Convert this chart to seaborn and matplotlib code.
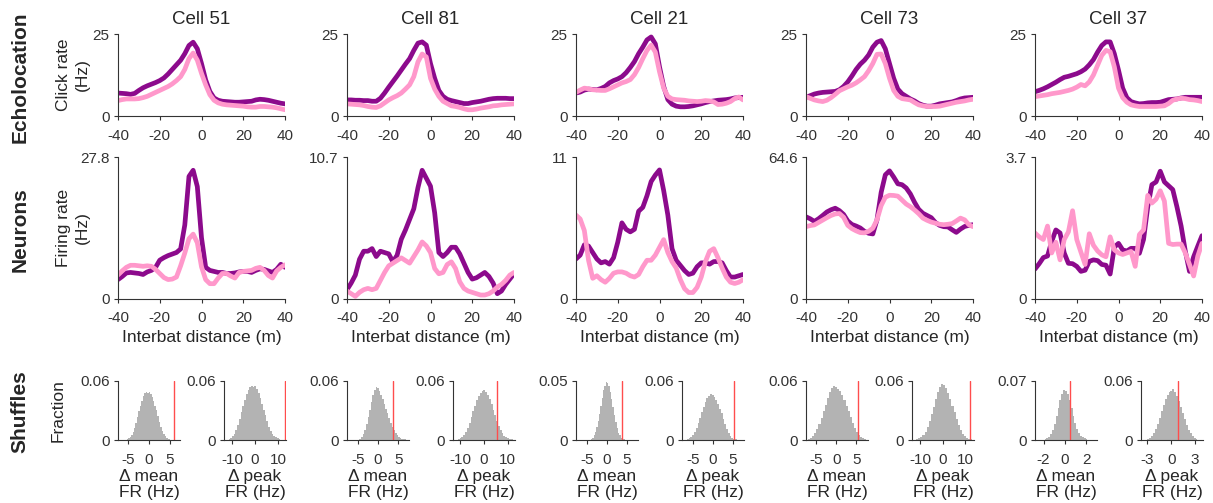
import numpy as np
import pandas as pd
import matplotlib
matplotlib.use('Agg')
import matplotlib.pyplot as plt
import seaborn as sns

# ------------------------------
# data
# ------------------------------
dist = np.arange(-40, 41, 2)  # interbat distance (m)
cell_ids = [51, 81, 21, 73, 37]

# echolocation click rate (Hz), dark = real, pink = control
click_51_dark = [7.0, 6.9, 6.8, 6.6, 6.9, 7.8, 8.6, 9.2, 9.7, 10.2, 10.8, 11.6, 12.8, 14.2, 15.6, 17.0, 19.0, 21.5, 22.5, 20.5, 16.0,
                 11.0, 7.5, 5.5, 4.8, 4.5, 4.4, 4.3, 4.2, 4.2, 4.3, 4.4, 4.5, 4.9, 5.1, 5.0, 4.8, 4.5, 4.2, 3.9, 3.7]
click_51_pink = [4.7, 5.0, 5.2, 5.2, 5.2, 5.3, 5.6, 6.0, 6.6, 7.2, 7.8, 8.4, 9.0, 9.8, 10.8, 12.0, 14.2, 17.5, 19.2, 17.0, 13.0,
                 9.5, 6.5, 4.8, 4.0, 3.6, 3.4, 3.3, 3.2, 3.1, 3.0, 2.8, 2.7, 2.7, 2.9, 2.9, 2.8, 2.7, 2.5, 2.2, 1.9]
click_81_dark = [4.9, 4.9, 4.8, 4.8, 4.7, 4.7, 4.5, 4.5, 5.4, 7.0, 8.8, 10.5, 12.2, 14.0, 15.8, 17.5, 20.0, 22.2, 22.6, 21.6, 16.0,
                 11.5, 7.8, 6.0, 5.1, 4.7, 4.4, 4.1, 3.8, 3.8, 4.1, 4.3, 4.5, 4.8, 5.1, 5.3, 5.4, 5.4, 5.4, 5.3, 5.3]
click_81_pink = [3.7, 3.6, 3.5, 3.4, 3.2, 2.9, 2.7, 2.6, 3.1, 4.0, 4.9, 5.6, 6.2, 7.0, 8.2, 9.5, 12.0, 16.5, 18.9, 18.0, 11.5,
                 8.2, 6.0, 4.5, 3.8, 3.1, 2.9, 2.6, 2.2, 1.9, 1.9, 2.1, 2.4, 2.6, 2.8, 3.1, 3.2, 3.4, 3.5, 3.6, 3.7]
click_21_dark = [7.0, 7.3, 7.9, 8.2, 8.1, 8.0, 8.4, 9.0, 10.1, 10.8, 11.3, 12.0, 13.2, 14.8, 16.6, 19.0, 21.0, 23.2, 24.1, 22.0, 15.0,
                 9.0, 5.0, 3.6, 3.0, 2.8, 2.8, 2.9, 3.1, 3.4, 3.7, 4.1, 4.4, 4.6, 4.8, 4.9, 5.0, 5.2, 5.5, 5.6, 5.7]
click_21_pink = [7.2, 7.9, 8.5, 8.3, 8.0, 7.9, 7.8, 7.8, 8.3, 8.9, 9.5, 10.1, 10.5, 11.1, 12.6, 14.8, 17.5, 20.0, 21.6, 19.5, 13.5,
                 8.5, 6.0, 5.2, 5.0, 4.9, 4.8, 4.6, 4.5, 4.4, 4.5, 4.7, 4.6, 4.3, 3.5, 3.6, 3.9, 4.4, 5.3, 5.8, 4.9]
click_73_dark = [5.7, 6.2, 6.7, 7.0, 7.2, 7.3, 7.4, 7.5, 8.0, 9.0, 10.4, 12.2, 14.2, 15.8, 17.0, 18.6, 21.0, 22.5, 23.0, 20.5, 16.0,
                 11.5, 8.2, 6.8, 6.0, 5.2, 4.6, 3.8, 3.3, 3.0, 3.0, 3.3, 3.7, 3.9, 4.1, 4.3, 4.7, 5.2, 5.5, 5.6, 5.7]
click_73_pink = [5.9, 5.4, 4.9, 4.6, 4.4, 4.8, 5.6, 6.6, 7.7, 8.3, 8.9, 9.4, 10.1, 11.0, 12.0, 13.8, 16.0, 18.8, 18.9, 16.0, 11.5,
                 7.8, 6.0, 5.3, 5.1, 4.9, 4.1, 3.4, 3.1, 2.9, 2.9, 2.9, 3.0, 3.3, 3.6, 3.9, 4.2, 4.4, 4.6, 4.9, 5.1]
click_37_dark = [7.4, 7.8, 8.3, 8.9, 9.6, 10.3, 11.1, 11.8, 12.1, 12.5, 12.9, 13.5, 14.3, 15.6, 17.2, 19.5, 21.5, 22.6, 22.6, 19.0, 14.0,
                 8.5, 5.6, 4.4, 4.0, 3.7, 3.8, 4.0, 4.1, 4.1, 4.2, 4.6, 5.0, 5.1, 5.2, 5.5, 5.7, 5.7, 5.7, 5.7, 5.7]
click_37_pink = [5.9, 6.1, 6.3, 6.5, 6.8, 7.0, 7.2, 7.5, 7.8, 8.2, 8.8, 9.6, 9.2, 10.4, 12.5, 15.5, 18.5, 20.0, 19.6, 15.0, 8.5,
                 5.6, 4.2, 3.4, 3.1, 2.9, 2.9, 2.9, 2.9, 2.9, 3.0, 3.1, 3.8, 4.8, 5.2, 5.4, 5.3, 5.0, 4.9, 4.7, 4.4]

# neuron firing rate (Hz)
fr_51_dark = [3.8, 4.4, 5.1, 5.2, 5.1, 5.0, 4.8, 5.3, 5.6, 6.2, 7.6, 8.1, 8.5, 8.8, 9.1, 9.8, 14.5, 24.0, 25.2, 22.0, 12.0,
              6.2, 5.6, 5.4, 5.2, 5.2, 5.0, 5.0, 5.1, 5.3, 5.4, 5.4, 5.2, 5.6, 5.9, 5.8, 5.5, 5.2, 5.8, 6.8, 6.2]
fr_51_pink = [4.7, 5.5, 6.2, 6.6, 6.6, 6.5, 6.4, 6.5, 6.4, 5.8, 5.0, 4.2, 3.8, 3.9, 4.3, 6.5, 9.0, 11.8, 12.7, 11.0, 6.3,
              3.8, 3.0, 3.0, 4.1, 5.0, 5.0, 4.5, 4.1, 5.2, 5.4, 5.5, 5.6, 6.0, 6.2, 5.6, 4.6, 4.1, 5.5, 6.2, 6.7]
fr_81_dark = [0.7, 1.2, 1.8, 3.0, 3.6, 3.6, 3.8, 3.2, 3.6, 3.5, 3.4, 2.8, 3.3, 4.5, 5.2, 6.0, 6.8, 8.4, 9.7, 9.1, 8.5,
              6.5, 3.5, 3.2, 3.5, 3.9, 3.9, 3.4, 2.7, 2.0, 1.5, 1.6, 1.8, 2.0, 1.7, 1.2, 0.4, 0.6, 1.1, 1.5, 1.9]
fr_81_pink = [0.6, 0.4, 0.2, 0.5, 0.7, 0.8, 0.7, 0.8, 1.4, 2.0, 2.5, 2.7, 2.9, 3.1, 2.9, 2.7, 3.2, 3.7, 4.3, 4.0, 3.5,
              2.3, 1.9, 2.0, 2.6, 2.8, 2.3, 1.3, 0.8, 0.6, 0.5, 0.4, 0.3, 0.3, 0.4, 0.6, 0.9, 1.1, 1.4, 1.8, 2.0]
fr_21_dark = [3.1, 3.4, 4.2, 4.1, 3.6, 3.1, 2.8, 2.9, 2.7, 3.2, 4.4, 5.9, 5.4, 5.2, 5.4, 6.8, 7.1, 8.0, 9.1, 9.6, 10.0,
              8.4, 6.5, 3.9, 3.0, 2.6, 2.2, 1.9, 2.0, 2.5, 2.8, 2.8, 2.7, 2.9, 2.9, 2.8, 2.2, 1.7, 1.7, 1.8, 1.9]
fr_21_pink = [6.5, 6.2, 5.3, 3.0, 1.6, 1.8, 1.5, 1.3, 1.6, 2.0, 2.1, 2.1, 2.0, 1.8, 1.7, 1.9, 2.5, 3.0, 3.0, 3.4, 4.0,
              4.6, 3.6, 2.9, 2.4, 1.5, 0.8, 0.5, 0.5, 0.9, 1.7, 2.9, 3.7, 3.9, 3.2, 2.4, 1.7, 1.3, 1.2, 1.3, 1.5]
fr_73_dark = [37.4, 36.5, 35.3, 36.5, 38.0, 39.6, 40.6, 41.3, 40.2, 38.5, 35.5, 33.9, 33.2, 32.3, 30.8, 29.9, 29.6, 36.0, 48.5, 56.5, 58.3,
              55.5, 52.4, 52.0, 50.5, 47.8, 44.0, 40.8, 39.0, 38.0, 37.0, 34.8, 33.5, 32.9, 32.8, 31.5, 30.3, 31.8, 33.0, 33.5, 33.8]
fr_73_pink = [32.9, 33.4, 33.7, 34.8, 35.9, 37.0, 38.0, 38.7, 38.9, 37.2, 33.5, 32.0, 31.0, 30.2, 30.1, 30.8, 32.2, 36.0, 42.5, 46.3, 47.2,
              47.1, 46.8, 45.0, 43.2, 42.0, 40.5, 38.8, 36.8, 35.8, 35.0, 34.5, 34.0, 33.8, 34.0, 34.3, 35.5, 36.8, 36.0, 33.8, 32.9]
fr_37_dark = [0.78, 0.92, 1.08, 1.12, 1.50, 1.80, 1.72, 1.20, 0.93, 0.92, 0.85, 0.72, 0.75, 0.98, 1.02, 1.00, 0.90, 0.88, 0.65, 1.35, 1.45,
              1.28, 1.25, 1.32, 1.32, 1.19, 1.55, 2.40, 2.98, 3.05, 3.33, 3.05, 2.95, 2.85, 2.40, 1.90, 1.25, 0.72, 1.10, 1.38, 1.65]
fr_37_pink = [1.72, 1.62, 1.55, 1.90, 1.20, 1.48, 1.02, 1.55, 1.75, 2.30, 1.55, 1.22, 0.90, 1.70, 1.40, 1.25, 1.15, 1.10, 1.62, 1.28, 1.20,
              1.16, 1.20, 1.24, 0.85, 1.68, 1.80, 2.70, 2.50, 2.60, 2.82, 2.55, 1.45, 1.42, 1.43, 1.43, 1.20, 0.90, 0.60, 1.12, 1.45]
fr_ymax = [27.8, 10.7, 11, 64.6, 3.7]

# shuffle distributions: bin heights (fraction) over [lo, hi], one pair (mean, peak) per cell
shuf_51_mean = [0.001, 0.002, 0.003, 0.005, 0.008, 0.012, 0.017, 0.023, 0.029, 0.035, 0.040, 0.045, 0.048, 0.049, 0.048,
                0.049, 0.047, 0.044, 0.040, 0.035, 0.030, 0.024, 0.018, 0.013, 0.009, 0.006, 0.004, 0.002, 0.001, 0.001]
shuf_51_peak = [0.001, 0.002, 0.004, 0.006, 0.010, 0.015, 0.021, 0.028, 0.035, 0.041, 0.047, 0.051, 0.054, 0.055, 0.054,
                0.055, 0.052, 0.048, 0.043, 0.037, 0.031, 0.025, 0.019, 0.013, 0.009, 0.006, 0.004, 0.003, 0.002, 0.001]
shuf_81_mean = [0.001, 0.003, 0.006, 0.010, 0.016, 0.023, 0.031, 0.039, 0.046, 0.051, 0.054, 0.053, 0.050, 0.046, 0.042,
                0.037, 0.032, 0.027, 0.022, 0.017, 0.013, 0.010, 0.007, 0.005, 0.003, 0.002, 0.001, 0.001, 0.001, 0.0005]
shuf_81_peak = [0.001, 0.002, 0.003, 0.005, 0.008, 0.012, 0.017, 0.023, 0.029, 0.035, 0.041, 0.045, 0.048, 0.050, 0.051,
                0.049, 0.046, 0.042, 0.037, 0.031, 0.025, 0.019, 0.014, 0.010, 0.007, 0.004, 0.003, 0.002, 0.001, 0.001]
shuf_21_mean = [0.001, 0.002, 0.004, 0.007, 0.011, 0.016, 0.022, 0.029, 0.036, 0.042, 0.046, 0.049, 0.048, 0.046, 0.041,
                0.035, 0.028, 0.021, 0.015, 0.010, 0.006, 0.004, 0.002, 0.001, 0.001]
shuf_21_peak = [0.001, 0.002, 0.003, 0.005, 0.008, 0.012, 0.017, 0.022, 0.028, 0.034, 0.039, 0.043, 0.045, 0.047, 0.046,
                0.044, 0.041, 0.037, 0.032, 0.027, 0.021, 0.016, 0.011, 0.007, 0.004, 0.002, 0.001, 0.001]
shuf_73_mean = [0.001, 0.002, 0.004, 0.007, 0.011, 0.016, 0.022, 0.029, 0.036, 0.043, 0.049, 0.053, 0.055, 0.054, 0.052,
                0.050, 0.046, 0.041, 0.035, 0.029, 0.023, 0.017, 0.012, 0.008, 0.005, 0.003, 0.002, 0.001]
shuf_73_peak = [0.001, 0.002, 0.003, 0.005, 0.008, 0.013, 0.019, 0.026, 0.034, 0.042, 0.049, 0.054, 0.057, 0.056, 0.053,
                0.048, 0.042, 0.035, 0.028, 0.021, 0.015, 0.010, 0.006, 0.004, 0.002, 0.001, 0.001]
shuf_37_mean = [0.001, 0.002, 0.004, 0.007, 0.012, 0.019, 0.028, 0.038, 0.048, 0.055, 0.059, 0.058, 0.054, 0.047, 0.038,
                0.029, 0.020, 0.013, 0.008, 0.005, 0.003, 0.002, 0.001]
shuf_37_peak = [0.001, 0.002, 0.004, 0.007, 0.011, 0.016, 0.022, 0.029, 0.036, 0.042, 0.046, 0.049, 0.050, 0.052, 0.049,
                0.045, 0.040, 0.034, 0.027, 0.021, 0.015, 0.010, 0.007, 0.004, 0.002, 0.001]
shuf_range = [(-5.4, 5.2), (-11.5, 11.0), (-4.6, 7.4), (-11.0, 12.0), (-4.0, 4.5),
              (-6.5, 6.0), (-7.0, 7.5), (-11.8, 13.2), (-1.9, 2.1), (-3.0, 3.3)]
real_diff = [6.0, 13.2, 3.75, 5.6, 3.8, 5.3, 5.5, 12.0, 0.47, 0.9]  # red line (observed value)
shuf_ymax = [0.06, 0.06, 0.06, 0.06, 0.05, 0.06, 0.06, 0.06, 0.07, 0.06]
shuf_xlim = [(-7.5, 7.5), (-13.5, 13.5), (-7.7, 7.7), (-13, 13), (-7.8, 7.9),
             (-7.7, 7.8), (-7.5, 7.9), (-13.7, 14), (-2.8, 3.0), (-3.8, 4.0)]
shuf_ticks = [[-5, 0, 5], [-10, 0, 10], [-5, 0, 5], [-10, 0, 10], [-5, 0, 5],
              [-5, 0, 5], [-5, 0, 5], [-10, 0, 10], [-2, 0, 2], [-3, 0, 3]]

click_dark = [click_51_dark, click_81_dark, click_21_dark, click_73_dark, click_37_dark]
click_pink = [click_51_pink, click_81_pink, click_21_pink, click_73_pink, click_37_pink]
fr_dark = [fr_51_dark, fr_81_dark, fr_21_dark, fr_73_dark, fr_37_dark]
fr_pink = [fr_51_pink, fr_81_pink, fr_21_pink, fr_73_pink, fr_37_pink]
shuffles = [shuf_51_mean, shuf_51_peak, shuf_81_mean, shuf_81_peak, shuf_21_mean,
            shuf_21_peak, shuf_73_mean, shuf_73_peak, shuf_37_mean, shuf_37_peak]

# ------------------------------
# style
# ------------------------------
sns.set_style('ticks')
plt.rcParams['font.family'] = ['Liberation Sans', 'DejaVu Sans']
plt.rcParams['axes.unicode_minus'] = False  # plain hyphen like the original
DARK = '#8c0a8c'
PINK = '#ff98cb'
GRAY = '#b3b3b3'
RED = '#ff4d4d'
AX_COL = '#333333'
LW = 3.4

W, H = 1213, 503
fig = plt.figure(figsize=(W / 100, H / 100), dpi=100)


def add_ax(left, top, width, height):
    # pixel box -> figure fraction
    return fig.add_axes([left / W, 1 - (top + height) / H, width / W, height / H])


def style(ax):
    sns.despine(ax=ax)
    for s in ['left', 'bottom']:
        ax.spines[s].set_linewidth(0.8)
        ax.spines[s].set_color(AX_COL)
    ax.tick_params(direction='out', length=3, width=0.8, colors=AX_COL, labelsize=11)
    ax.tick_params(axis='x', pad=6)
    ax.tick_params(axis='y', pad=3)


col_left = [118, 347, 576, 806, 1035]
col_w = 167

for i, cid in enumerate(cell_ids):
    L = col_left[i]

    # echolocation row
    ax = add_ax(L, 34, col_w, 82)
    sns.lineplot(x=dist, y=click_dark[i], ax=ax, color=DARK, linewidth=LW)
    sns.lineplot(x=dist, y=click_pink[i], ax=ax, color=PINK, linewidth=LW)
    ax.set_xlim(-40, 40)
    ax.set_ylim(0, 25)
    ax.set_xticks([-40, -20, 0, 20, 40])
    ax.set_yticks([0, 25])
    ax.set_xlabel('')
    ax.set_ylabel('')
    ax.set_title(f'Cell {cid}', fontsize=13.5, pad=7)
    style(ax)
    if i == 0:
        ax.set_ylabel('Click rate\n(Hz)', fontsize=12.5, linespacing=1.3)
        ax.yaxis.set_label_coords(-0.17, 0.5)

    # neuron row
    ax = add_ax(L, 157, col_w, 142)
    sns.lineplot(x=dist, y=fr_dark[i], ax=ax, color=DARK, linewidth=LW)
    sns.lineplot(x=dist, y=fr_pink[i], ax=ax, color=PINK, linewidth=LW)
    ax.set_xlim(-40, 40)
    ax.set_ylim(0, fr_ymax[i])
    ax.set_xticks([-40, -20, 0, 20, 40])
    ax.set_yticks([0, fr_ymax[i]])
    ax.set_yticklabels(['0', f'{fr_ymax[i]:g}'])
    ax.set_xlabel('Interbat distance (m)', fontsize=12.5, labelpad=3)
    ax.set_ylabel('')
    style(ax)
    if i == 0:
        ax.set_ylabel('Firing rate\n(Hz)', fontsize=12.5, linespacing=1.3)
        ax.yaxis.set_label_coords(-0.17, 0.5)

    # shuffle row: mean and peak difference
    for j in range(2):
        k = 2 * i + j
        ax = add_ax(L + 106 * j, 381, 62, 59)
        lo, hi = shuf_range[k]
        heights = shuffles[k]
        edges = np.linspace(lo, hi, len(heights) + 1)
        df = pd.DataFrame({'diff': (edges[:-1] + edges[1:]) / 2, 'frac': heights})
        sns.histplot(data=df, x='diff', weights='frac', bins=list(edges), ax=ax,
                     element='step', fill=True, color=GRAY, alpha=1, linewidth=0)
        ax.axvline(real_diff[k], color=RED, linewidth=1)
        ax.set_xlim(*shuf_xlim[k])
        ax.set_ylim(0, shuf_ymax[k])
        ax.set_xticks(shuf_ticks[k])
        ax.set_yticks([0, shuf_ymax[k]])
        ax.set_yticklabels(['0', f'{shuf_ymax[k]:g}'])
        ax.set_xlabel(['\u0394 mean', '\u0394 peak'][j] + '\nFR (Hz)', fontsize=12.5,
                      linespacing=1.05, labelpad=2)
        ax.set_ylabel('')
        style(ax)
        if k == 0:
            ax.set_ylabel('Fraction', fontsize=12.5)
            ax.yaxis.set_label_coords(-0.85, 0.5)

# row labels
for txt, yc in [('Echolocation', 77), ('Neurons', 230), ('Shuffles', 412)]:
    fig.text(20 / W, 1 - yc / H, txt, rotation=90, ha='center', va='center',
             fontsize=15, fontweight='bold')

fig.savefig('out.png', dpi=100)
